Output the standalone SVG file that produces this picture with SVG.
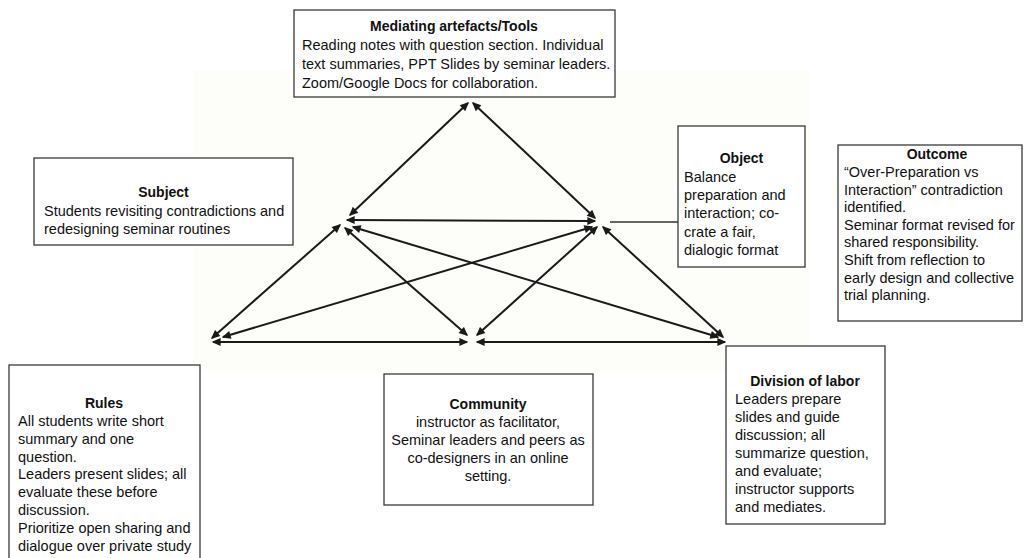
<svg xmlns="http://www.w3.org/2000/svg" width="1026" height="558" viewBox="0 0 1026 558">
<style>
.box{fill:#fff;stroke:#3a3a3a;stroke-width:1.3}
.t{font-family:"Liberation Sans",Arial,sans-serif;font-size:14.5px;fill:#111}
.h{font-weight:bold;text-anchor:middle;font-size:14px}
.c{text-anchor:middle}
.con line{stroke:#1a1a1a;stroke-width:2;marker-start:url(#ah);marker-end:url(#ah)}
.con line.plain{marker-start:none;marker-end:none;stroke:#333;stroke-width:1.5}
</style>
<defs>
<marker id="ah" viewBox="0 0 10 10" refX="8.5" refY="5" markerWidth="10" markerHeight="9" markerUnits="userSpaceOnUse" orient="auto-start-reverse">
<path d="M0,0.5 L10,5 L0,9.5 z" fill="#1a1a1a"/>
</marker>
</defs>
<rect x="0" y="0" width="1026" height="558" fill="#ffffff"/>
<rect x="193" y="70" width="617" height="302" fill="#fdfdfa"/>

<g id="connectors" class="con">
<line x1="468" y1="103" x2="350" y2="215"/>
<line x1="473" y1="103" x2="595" y2="218"/>
<line x1="347" y1="220" x2="595" y2="221"/>
<line x1="340" y1="225" x2="212" y2="338"/>
<line x1="345" y1="228" x2="467" y2="335"/>
<line x1="353" y1="227" x2="718" y2="337"/>
<line x1="592" y1="227" x2="223" y2="337"/>
<line x1="597" y1="227" x2="477" y2="335"/>
<line x1="213" y1="342" x2="467" y2="342"/>
<line x1="477" y1="342" x2="725" y2="342"/>
<line x1="603" y1="227" x2="723" y2="337"/>
<line class="plain" x1="610" y1="222" x2="678" y2="222"/>
</g>

<g id="tools">
<rect class="box" x="294" y="10" width="321" height="87"/>
<text class="t h" x="454" y="31">Mediating artefacts/Tools</text>
<text class="t" x="302" y="50">Reading notes with question section. Individual</text>
<text class="t" x="302" y="69">text summaries, PPT Slides by seminar leaders.</text>
<text class="t" x="302" y="88">Zoom/Google Docs for collaboration.</text>
</g>

<g id="subject">
<rect class="box" x="34" y="158" width="259" height="87"/>
<text class="t h" x="163.5" y="197">Subject</text>
<text class="t" x="44" y="216">Students revisiting contradictions and</text>
<text class="t" x="44" y="234">redesigning seminar routines</text>
</g>

<g id="object">
<rect class="box" x="678" y="126" width="127" height="141"/>
<text class="t h" x="741.5" y="163">Object</text>
<text class="t" x="684" y="182">Balance</text>
<text class="t" x="684" y="200">preparation and</text>
<text class="t" x="684" y="218">interaction; co-</text>
<text class="t" x="684" y="237">crate a fair,</text>
<text class="t" x="684" y="255">dialogic format</text>
</g>

<g id="outcome">
<rect class="box" x="838" y="145" width="184" height="176"/>
<text class="t h" x="937" y="159">Outcome</text>
<text class="t" x="844" y="177">“Over-Preparation vs</text>
<text class="t" x="844" y="195">Interaction” contradiction</text>
<text class="t" x="844" y="212">identified.</text>
<text class="t" x="844" y="230">Seminar format revised for</text>
<text class="t" x="844" y="247">shared responsibility.</text>
<text class="t" x="844" y="265">Shift from reflection to</text>
<text class="t" x="844" y="283">early design and collective</text>
<text class="t" x="844" y="300">trial planning.</text>
</g>

<g id="rules">
<rect class="box" x="9" y="365" width="191" height="200"/>
<text class="t h" x="104" y="408">Rules</text>
<text class="t" x="18" y="426">All students write short</text>
<text class="t" x="18" y="444">summary and one</text>
<text class="t" x="18" y="462">question.</text>
<text class="t" x="18" y="479">Leaders present slides; all</text>
<text class="t" x="18" y="497">evaluate these before</text>
<text class="t" x="18" y="515">discussion.</text>
<text class="t" x="18" y="533">Prioritize open sharing and</text>
<text class="t" x="18" y="551">dialogue over private study</text>
</g>

<g id="community">
<rect class="box" x="384" y="374" width="209" height="131"/>
<text class="t h" x="488" y="409">Community</text>
<text class="t c" x="488" y="427">instructor as facilitator,</text>
<text class="t c" x="488" y="445">Seminar leaders and peers as</text>
<text class="t c" x="488" y="463">co-designers in an online</text>
<text class="t c" x="488" y="481">setting.</text>
</g>

<g id="division">
<rect class="box" x="726" y="346" width="159" height="178"/>
<text class="t h" x="805" y="386">Division of labor</text>
<text class="t" x="735" y="404">Leaders prepare</text>
<text class="t" x="735" y="422">slides and guide</text>
<text class="t" x="735" y="440">discussion; all</text>
<text class="t" x="735" y="458">summarize question,</text>
<text class="t" x="735" y="476">and evaluate;</text>
<text class="t" x="735" y="494">instructor supports</text>
<text class="t" x="735" y="512">and mediates.</text>
</g>
</svg>
